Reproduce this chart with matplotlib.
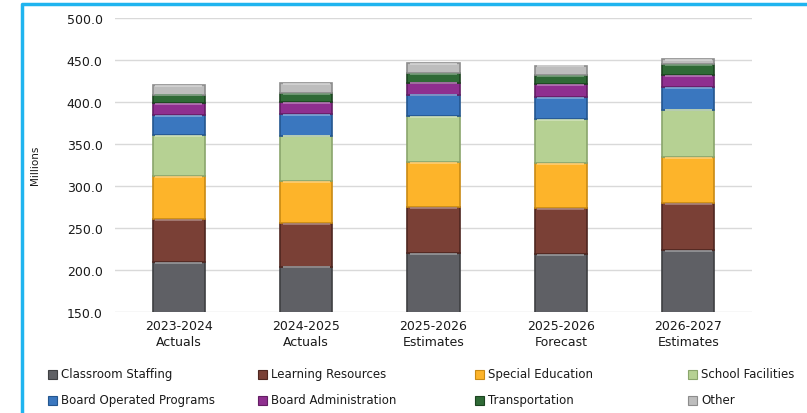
import numpy as np
import matplotlib.pyplot as plt
from matplotlib.patches import Rectangle
from matplotlib.lines import Line2D

# budget by year, millions
years = ["2023-2024\nActuals", "2024-2025\nActuals", "2025-2026\nEstimates",
         "2025-2026\nForecast", "2026-2027\nEstimates"]

classroom = [209.2, 204.0, 220.0, 218.8, 223.6]
learning = [51.6, 51.6, 54.8, 55.2, 56.4]
special_ed = [50.8, 50.4, 54.0, 52.8, 54.0]
facilities = [49.2, 54.0, 54.0, 53.2, 56.8]
board_programs = [24.0, 25.6, 26.0, 26.0, 26.8]
board_admin = [14.0, 14.0, 14.4, 15.2, 14.4]
transport = [10.0, 11.2, 11.2, 10.8, 13.0]
other = [11.2, 12.0, 11.6, 11.2, 6.2]

series = [classroom, learning, special_ed, facilities,
          board_programs, board_admin, transport, other]
names = ["Classroom Staffing", "Learning Resources", "Special Education",
         "School Facilities", "Board Operated Programs", "Board Administration",
         "Transportation", "Other"]
colors = ["#5f6065", "#7a4036", "#fdb42a", "#b6d193",
          "#3a77bf", "#8f2f8f", "#2f6a36", "#bdbdbd"]
edges = ["#3e3f42", "#4e2620", "#c98a14", "#8aa56c",
         "#24568f", "#641e64", "#1c4420", "#8c8c8c"]


def lighten(c, f):
    c = np.array(plt.matplotlib.colors.to_rgb(c))
    return tuple(c + (1 - c) * f)


fig = plt.figure(figsize=(8.07, 4.14), dpi=100)
ax = fig.add_axes([115/807, 1-313/414, 637/807, 294/414])

x = np.arange(len(years))
bottom = np.zeros(len(years))
for vals, col, ec in zip(series, colors, edges):
    vals = np.array(vals)
    bars = ax.bar(x, vals, width=0.41, bottom=bottom, color=col,
                  edgecolor=ec, linewidth=1.2, zorder=3)
    # bevel highlight along the top of each block
    for r in bars:
        x0, y0, w, h = r.get_x(), r.get_y(), r.get_width(), r.get_height()
        ax.plot([x0 + 0.02, x0 + w - 0.02], [y0 + h - 0.9, y0 + h - 0.9],
                color=lighten(col, 0.35), lw=1.2, zorder=4,
                solid_capstyle='butt')
    bottom += vals

ax.set_ylim(150, 500)
ax.set_xlim(-0.5, 4.5)
ax.set_yticks(np.arange(150, 501, 50))
ax.set_yticklabels([f"{v:.1f}" for v in np.arange(150, 501, 50)])
ax.set_xticks(x)
ax.set_xticklabels(years, linespacing=1.3)
ax.grid(axis='y', color='#d9d9d9', lw=1, zorder=0)
for s in ax.spines.values():
    s.set_visible(False)
ax.tick_params(axis='y', length=0, pad=9, labelsize=9, labelcolor='#1a1a1a')
ax.tick_params(axis='x', length=0, pad=5, labelsize=9, labelcolor='#1a1a1a')

fig.text(35/807, 1-165/414, "Millions", rotation=90, ha='center',
         va='center', fontsize=7.5, color='#1a1a1a')

# legend laid out in two rows of four
col_x = [48, 258, 475, 688]
row_y = [375, 401]
for i, (nm, col, ec) in enumerate(zip(names, colors, edges)):
    px = col_x[i % 4]
    py = row_y[i // 4]
    fig.patches.append(Rectangle((px/807, 1-(py+4.5)/414), 9/807, 9/414,
                                 transform=fig.transFigure, facecolor=col,
                                 edgecolor=ec, lw=0.8))
    fig.text((px+13)/807, 1-py/414, nm, ha='left', va='center',
             fontsize=8.5, color='#1a1a1a')

# frame lines
fig.lines.append(Line2D([22/807, 22/807, 1], [0, 1-5/414, 1-5/414],
                        transform=fig.transFigure, color='#1fb4ef', lw=2.5))

fig.savefig("out.png", dpi=100)
